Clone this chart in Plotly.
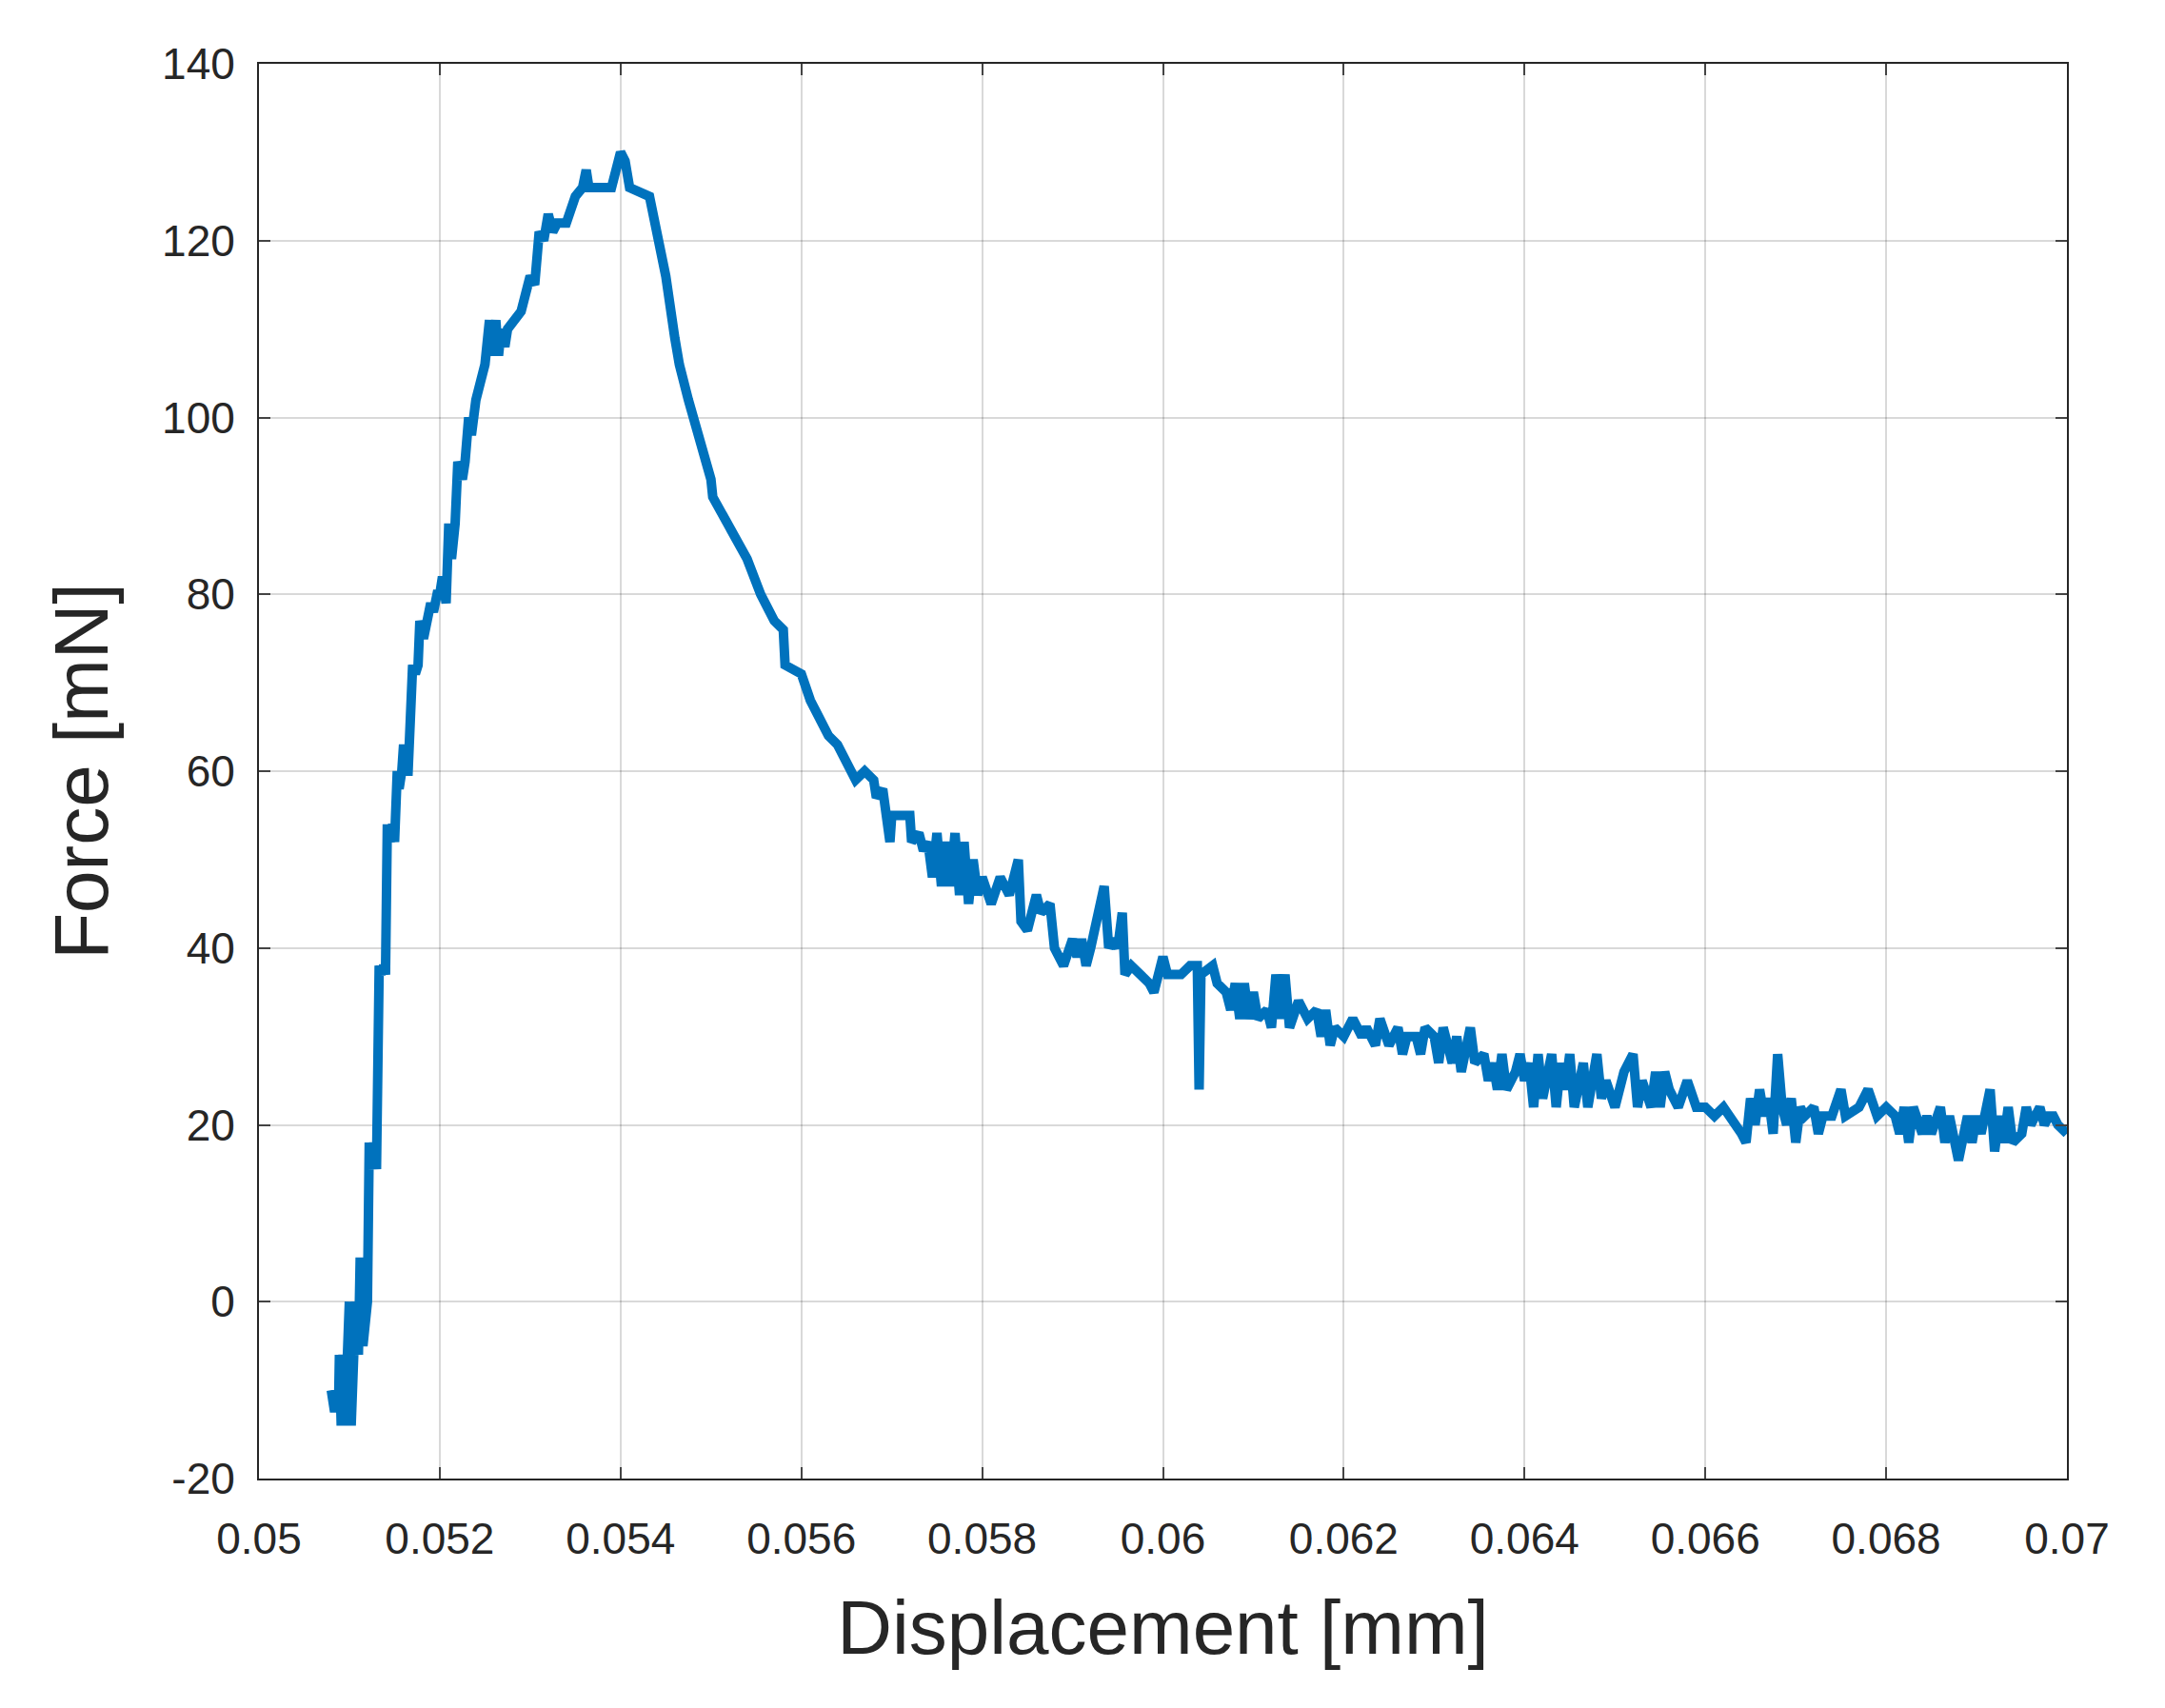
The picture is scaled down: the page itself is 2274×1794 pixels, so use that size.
import plotly.graph_objects as go

disp = [
0.05080,0.05083,0.05088,0.05089,0.05091,0.05093,0.05095,0.05096,0.05100,0.05102,
0.05105,0.05107,0.05110,0.05112,0.05115,0.05118,0.05120,0.05122,0.05125,0.05127,
0.05130,0.05133,0.05135,0.05138,0.05140,0.05142,0.05145,0.05148,0.05150,0.05153,
0.05155,0.05158,0.05160,0.05163,0.05165,0.05170,0.05173,0.05176,0.05178,0.05182,
0.05185,0.05190,0.05193,0.05197,0.05200,0.05203,0.05207,0.05210,0.05213,0.05217,
0.05220,0.05225,0.05228,0.05232,0.05235,0.05240,0.05250,0.05255,0.05258,0.05262,
0.05265,0.05268,0.05272,0.05275,0.05290,0.05300,0.05305,0.05310,0.05315,0.05320,
0.05325,0.05330,0.05340,0.05350,0.05358,0.05362,0.05365,0.05390,0.05395,0.05400,
0.05405,0.05410,0.05432,0.05450,0.05460,0.05465,0.05475,0.05500,0.05502,0.05540,
0.05555,0.05570,0.05580,0.05582,0.05600,0.05610,0.05620,0.05630,0.05640,0.05660,
0.05670,0.05680,0.05683,0.05690,0.05698,0.05700,0.05720,0.05722,0.05730,0.05735,
0.05740,0.05745,0.05750,0.05755,0.05760,0.05765,0.05770,0.05775,0.05780,0.05785,
0.05790,0.05795,0.05800,0.05810,0.05820,0.05830,0.05840,0.05843,0.05850,0.05860,
0.05865,0.05875,0.05880,0.05890,0.05900,0.05905,0.05910,0.05915,0.05920,0.05935,
0.05940,0.05945,0.05950,0.05955,0.05958,0.05965,0.05975,0.05985,0.05990,0.05995,
0.06000,0.06005,0.06020,0.06030,0.06038,0.06040,0.06042,0.06055,0.06060,0.06070,
0.06075,0.06080,0.06085,0.06090,0.06095,0.06100,0.06105,0.06115,0.06120,0.06125,
0.06130,0.06135,0.06140,0.06150,0.06160,0.06170,0.06175,0.06180,0.06185,0.06190,
0.06200,0.06210,0.06220,0.06225,0.06235,0.06240,0.06250,0.06260,0.06265,0.06270,
0.06280,0.06285,0.06290,0.06300,0.06305,0.06310,0.06320,0.06325,0.06330,0.06340,
0.06345,0.06355,0.06360,0.06365,0.06370,0.06375,0.06380,0.06390,0.06395,0.06400,
0.06405,0.06410,0.06415,0.06420,0.06430,0.06435,0.06440,0.06445,0.06450,0.06455,
0.06465,0.06470,0.06480,0.06485,0.06490,0.06500,0.06510,0.06520,0.06525,0.06530,
0.06535,0.06540,0.06545,0.06550,0.06555,0.06560,0.06570,0.06580,0.06590,0.06600,
0.06610,0.06620,0.06640,0.06645,0.06650,0.06655,0.06660,0.06665,0.06670,0.06675,
0.06680,0.06685,0.06690,0.06695,0.06700,0.06705,0.06710,0.06720,0.06725,0.06730,
0.06740,0.06750,0.06755,0.06770,0.06780,0.06790,0.06800,0.06810,0.06815,0.06820,
0.06825,0.06830,0.06840,0.06845,0.06850,0.06860,0.06865,0.06870,0.06880,0.06885,
0.06890,0.06895,0.06900,0.06905,0.06915,0.06920,0.06925,0.06930,0.06935,0.06940,
0.06950,0.06955,0.06960,0.06970,0.06975,0.06980,0.06985,0.06990,0.07000]
force = [
-10,-12,-12,-6,-14,-6,-14,-12,0,-14,
0,0,-6,5,-5,0,0,18,15,18,
15,38,37,38,37,54,52,54,52,60,
58,60,63,60,60,72,71,72,77,75,
77,79,78,80,80,82,79,88,84,88,
95,93,95,100,98,102,106,111,107,111,
107,110,108,110,112,116,115,121,120,123,
121,122,122,125,126,128,126,126,128,130,
129,126,125,116,109,106,102,93,91,84,
80,77,76,72,71,68,66,64,63,59,
60,59,57,58,52,55,55,52,53,51,
52,48,53,47,52,47,53,46,52,45,
50,46,48,45,48,46,50,43,42,46,
44,45,40,38,41,39,41,38,40,47,
40,41,40,44,37,38,37,36,35,37,
39,37,37,38,38,24,37,38,36,35,
33,36,32,36,32,35,32,33,31,37,
32,37,31,34,32,33,30,33,29,31,
30,32,30,31,29,32,29,31,28,30,
30,28,31,30,27,31,27,30,26,31,
27,28,25,27,24,28,24,26,28,25,
27,22,28,23,28,22,27,24,28,22,
27,22,28,23,25,22,26,28,22,25,
23,22,26,22,26,24,22,25,22,22,
21,22,19,18,23,20,24,21,23,19,
28,22,20,23,18,22,21,22,19,21,
21,24,21,22,24,21,22,21,19,22,
18,22,19,21,19,22,18,21,16,19,
21,18,21,19,24,17,21,18,22,18,
19,22,20,22,20,21,21,20,19]
assert len(disp) == len(force)

fig = go.Figure(go.Scatter(x=disp, y=force, mode="lines",
                           line=dict(color="#0072BD", width=10), showlegend=False))
ax = dict(showline=True, linecolor="#262626", linewidth=2, mirror="allticks",
          ticks="inside", ticklen=12, tickwidth=2, showgrid=True,
          gridcolor="rgba(0,0,0,0.15)", gridwidth=2, zeroline=False,
          tickfont=dict(size=46, color="#262626"))
fig.update_xaxes(range=[0.05, 0.07], tickvals=[0.05+0.002*i for i in range(11)],
                 ticktext=["0.05","0.052","0.054","0.056","0.058","0.06","0.062","0.064","0.066","0.068","0.07"],
                 ticklabelstandoff=22,
                 title=dict(text="Displacement [mm]", font=dict(size=80, color="#262626"), standoff=40), **ax)
fig.update_yaxes(range=[-20, 140], tickvals=[-20,0,20,40,60,80,100,120,140],
                 ticktext=["-20","0","20","40","60","80","100","120","140"],
                 ticklabelstandoff=14,
                 title=dict(text="Force [mN]", font=dict(size=80, color="#262626"), standoff=30), **ax)
fig.update_layout(width=2274, height=1794, plot_bgcolor="white", paper_bgcolor="white",
                  font=dict(family="Liberation Sans, Arial, sans-serif"),
                  margin=dict(l=264, r=111, t=59, b=249))
fig.write_html("out.html")
